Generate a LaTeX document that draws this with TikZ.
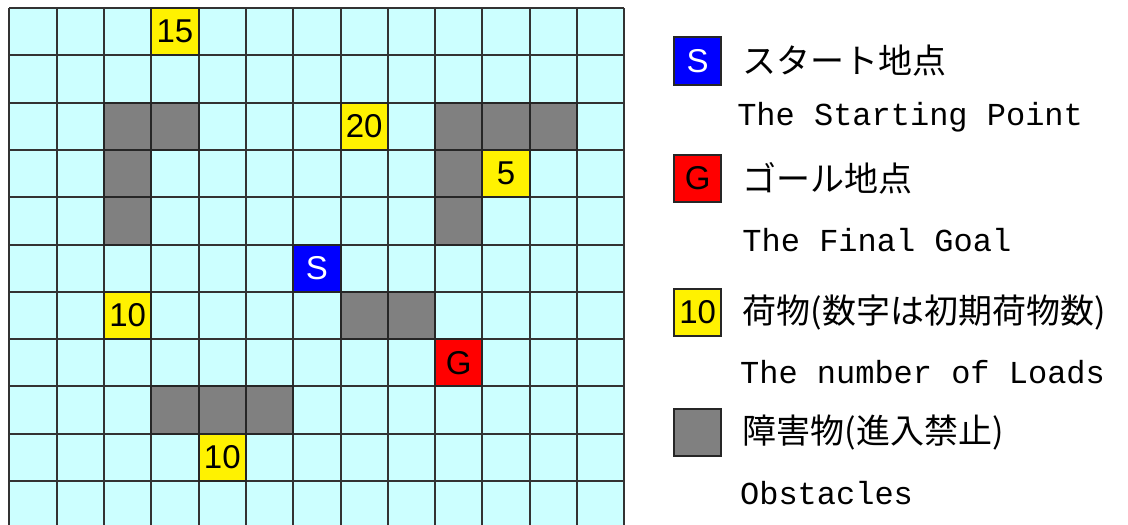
\documentclass[tikz,border=0pt]{standalone}
\usepackage{fontspec}
\setmainfont{Liberation Sans}
\setmonofont{Liberation Mono}
\newfontfamily\jpfont{Noto Sans CJK JP}
\usepackage{tikz}
\usetikzlibrary{positioning}
\definecolor{floor}{HTML}{CCFFFF}
\definecolor{wallgray}{HTML}{808080}
\tikzset{
  gridline/.style={black!80, line width=1pt},
  cell/.style={minimum size=23.65pt, inner sep=0pt, draw=black!85, line width=1pt,
    font=\fontsize{16.5}{16.5}\selectfont},
  load/.style={cell, fill=yellow},
  wall/.style={cell, fill=wallgray},
  start/.style={cell, fill=blue, text=white},
  goal/.style={cell, fill=red},
  jp/.style={font=\jpfont\fontsize{17}{17}\selectfont, inner sep=0pt},
  en/.style={font=\ttfamily\fontsize{16}{16}\selectfont, inner sep=0pt, anchor=west},
}

\begin{document}
\begin{tikzpicture}[x=23.65pt, y=-23.65pt]
    \useasboundingbox (-0.2,-0.17) rectangle (23.65,10.91);
    \clip (-0.2,-0.17) rectangle (23.65,10.91);

    % the field
    \fill[floor] (0,0) rectangle (13,11);
    \foreach \i in {0,...,13}
      \draw[gridline] (\i,0) -- (\i,11);
    \foreach \j in {0,...,11}
      \draw[gridline] (0,\j) -- (13,\j);

    % obstacles
    \foreach \c/\r in {2/2,3/2,9/2,10/2,11/2,2/3,9/3,2/4,9/4,7/6,8/6,3/8,4/8,5/8}
      \node[wall] (wall-\c-\r) at (\c+0.5,\r+0.5) {};

    % loads, start and goal
    \node[load] (load15) at (3.5,0.5) {15};
    \node[load] (load20) at (7.5,2.5) {20};
    \node[load] (load5) at (10.5,3.5) {5};
    \node[load] (load10a) at (2.5,6.5) {10};
    \node[load] (load10b) at (4.5,9.5) {10};
    \node[start] (S) at (6.5,5.5) {S};
    \node[goal] (G) at (9.5,7.5) {G};

    % legend
    \node[start] (keyS) at (14.55,1.12) {S};
    \node[jp, right=10pt of keyS] (keyStxt) {スタート地点};
    \node[en] (keySen) at (15.38,2.30) {The Starting Point};

    \node[goal] (keyG) at (14.55,3.6) {G};
    \node[jp, right=10pt of keyG] (keyGtxt) {ゴール地点};
    \node[en] (keyGen) at (15.49,4.9) {The Final Goal};

    \node[load] (keyL) at (14.55,6.44) {10};
    \node[jp, right=10pt of keyL] (keyLtxt) {荷物(数字は初期荷物数)};
    \node[en] (keyLen) at (15.44,7.7) {The number of Loads};

    \node[wall] (keyW) at (14.55,8.97) {};
    \node[jp, right=10pt of keyW] (keyWtxt) {障害物(進入禁止)};
    \node[en] (keyWen) at (15.44,10.25) {Obstacles};
\end{tikzpicture}
\end{document}
